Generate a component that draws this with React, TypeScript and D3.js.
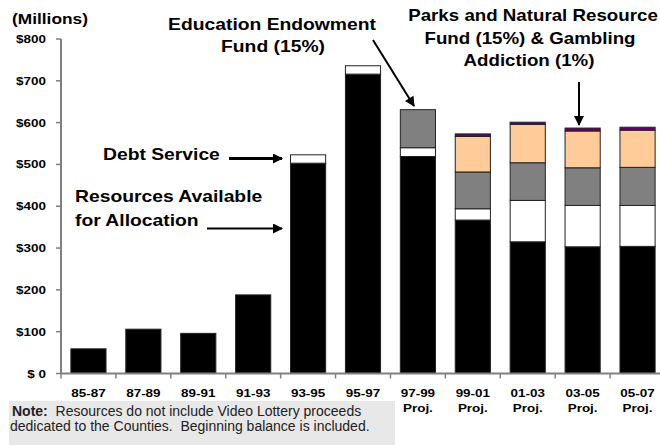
import React from "react";
import * as d3 from "d3";

const categories = ["85-87", "87-89", "89-91", "91-93", "93-95", "95-97", "97-99", "99-01", "01-03", "03-05", "05-07"];
const projected = [false, false, false, false, false, false, true, true, true, true, true];
const resources = [59, 106, 96, 188, 503, 716, 519, 367, 315, 303, 304];
const debtService = [0, 0, 0, 0, 20, 20, 21, 27, 99, 99, 98];
const educationFund = [0, 0, 0, 0, 0, 0, 91, 88, 90, 90, 91];
const parksFund = [0, 0, 0, 0, 0, 0, 0, 85, 92, 88, 89];
const gambling = [0, 0, 0, 0, 0, 0, 0, 6, 5, 7, 7];
const yTicks = [0, 100, 200, 300, 400, 500, 600, 700, 800];
const yTickLabels = ["$ 0", "$100", "$200", "$300", "$400", "$500", "$600", "$700", "$800"];

const seriesKeys = ["resources", "debt", "education", "parks", "gambling"];
const seriesColors = ["#000000", "#ffffff", "#808080", "#ffcc99", "#660066"];

const FONT = "'Liberation Sans', Arial, Helvetica, sans-serif";
const SX = 1.17;

function T({ x, y, size, anchor = "start", weight = "bold", sx = SX, children }: any) {
  return (
    <text
      transform={`translate(${x},${y}) scale(${sx},1)`}
      fontSize={size}
      fontWeight={weight}
      fontFamily={FONT}
      textAnchor={anchor}
      fill="#000"
    >
      {children}
    </text>
  );
}

export default function App() {
  const W = 660, H = 445;
  const x = d3.scaleBand<string>().domain(categories).range([61, 665]).paddingInner(0.36).paddingOuter(0.18);
  const y = d3.scaleLinear().domain([0, 800]).range([373.5, 39]);

  const rows = categories.map((c, i) => ({
    cat: c,
    resources: resources[i],
    debt: debtService[i],
    education: educationFund[i],
    parks: parksFund[i],
    gambling: gambling[i],
  }));
  const stacked = d3.stack<any>().keys(seriesKeys)(rows);

  const step = x.step();
  const boundaries = d3.range(categories.length + 1).map((i) => 61 + i * step);

  return (
    <svg width={W} height={H} style={{ position: "absolute", left: 0, top: 0, display: "block", background: "#fff" }}>
      <defs>
        <marker id="ah" viewBox="0 0 10 10" refX="9" refY="5" markerWidth="11" markerHeight="10" markerUnits="userSpaceOnUse" orient="auto">
          <path d="M0,0 L10,5 L0,10 z" fill="#000" />
        </marker>
      </defs>

      {/* bars */}
      {stacked.map((s, si) => (
        <g key={seriesKeys[si]}>
          {s.map((d: any, i: number) => {
            const h = y(d[0]) - y(d[1]);
            if (h <= 0) return null;
            return (
              <rect
                key={i}
                x={x(categories[i])!}
                y={y(d[1])}
                width={x.bandwidth()}
                height={h}
                fill={seriesColors[si]}
                stroke="#222"
                strokeWidth={1}
              />
            );
          })}
        </g>
      ))}

      {/* y axis */}
      <line x1={61} x2={61} y1={y(800)} y2={y(0)} stroke="#808080" strokeWidth={2} />
      {yTicks.map((t, i) => (
        <g key={t}>
          <line x1={56} x2={61} y1={y(t)} y2={y(t)} stroke="#808080" strokeWidth={1.5} />
          <T x={46} y={y(t) + 4} size={11.5} anchor="end">{yTickLabels[i]}</T>
        </g>
      ))}

      {/* x axis */}
      <line x1={61} x2={660} y1={y(0)} y2={y(0)} stroke="#808080" strokeWidth={2} />
      {boundaries.map((b, i) => (
        <line key={i} x1={b} x2={b} y1={y(0)} y2={y(0) + 5} stroke="#808080" strokeWidth={1.5} />
      ))}
      {categories.map((c, i) => {
        const cx = x(c)! + x.bandwidth() / 2;
        return (
          <g key={c}>
            <T x={cx} y={397} size={11.5} anchor="middle">{c}</T>
            {projected[i] && <T x={cx} y={412} size={11.5} anchor="middle">Proj.</T>}
          </g>
        );
      })}

      <T x={12} y={24} size={14.8} anchor="start">(Millions)</T>

      {/* annotations */}
      <T x={272} y={30} size={16.5} anchor="middle">Education Endowment</T>
      <T x={273} y={52} size={16.5} anchor="middle">Fund (15%)</T>
      <T x={533} y={21} size={16} anchor="middle">Parks and Natural Resource</T>
      <T x={530} y={44} size={16} anchor="middle">Fund (15%) &amp; Gambling</T>
      <T x={529} y={66} size={16} anchor="middle">Addiction (1%)</T>
      <T x={103} y={160} size={16.5} anchor="start">Debt Service</T>
      <T x={75} y={202} size={16.5} anchor="start">Resources Available</T>
      <T x={75} y={226} size={16.5} anchor="start">for Allocation</T>

      <line x1={229} y1={158.5} x2={282} y2={158.5} stroke="#000" strokeWidth={3} markerEnd="url(#ah)" />
      <line x1={207} y1={228.5} x2={282} y2={228.5} stroke="#000" strokeWidth={2} markerEnd="url(#ah)" />
      <line x1={373} y1={40} x2={414} y2={106} stroke="#000" strokeWidth={2} markerEnd="url(#ah)" />
      <line x1={579} y1={82} x2={579} y2={125} stroke="#000" strokeWidth={2} markerEnd="url(#ah)" />

      {/* note */}
      <rect x={9} y={401} width={386} height={44} fill="#e8e8e8" />
      <text x={12} y={416} fontSize={14} fontFamily={FONT} fill="#222">
        <tspan fontWeight="bold">Note:</tspan>
        <tspan>{"\u00a0 Resources do not include Video Lottery proceeds"}</tspan>
      </text>
      <text x={10} y={431} fontSize={14} fontFamily={FONT} fill="#222">
        {"dedicated to the Counties.\u00a0 Beginning balance is included."}
      </text>
    </svg>
  );
}
